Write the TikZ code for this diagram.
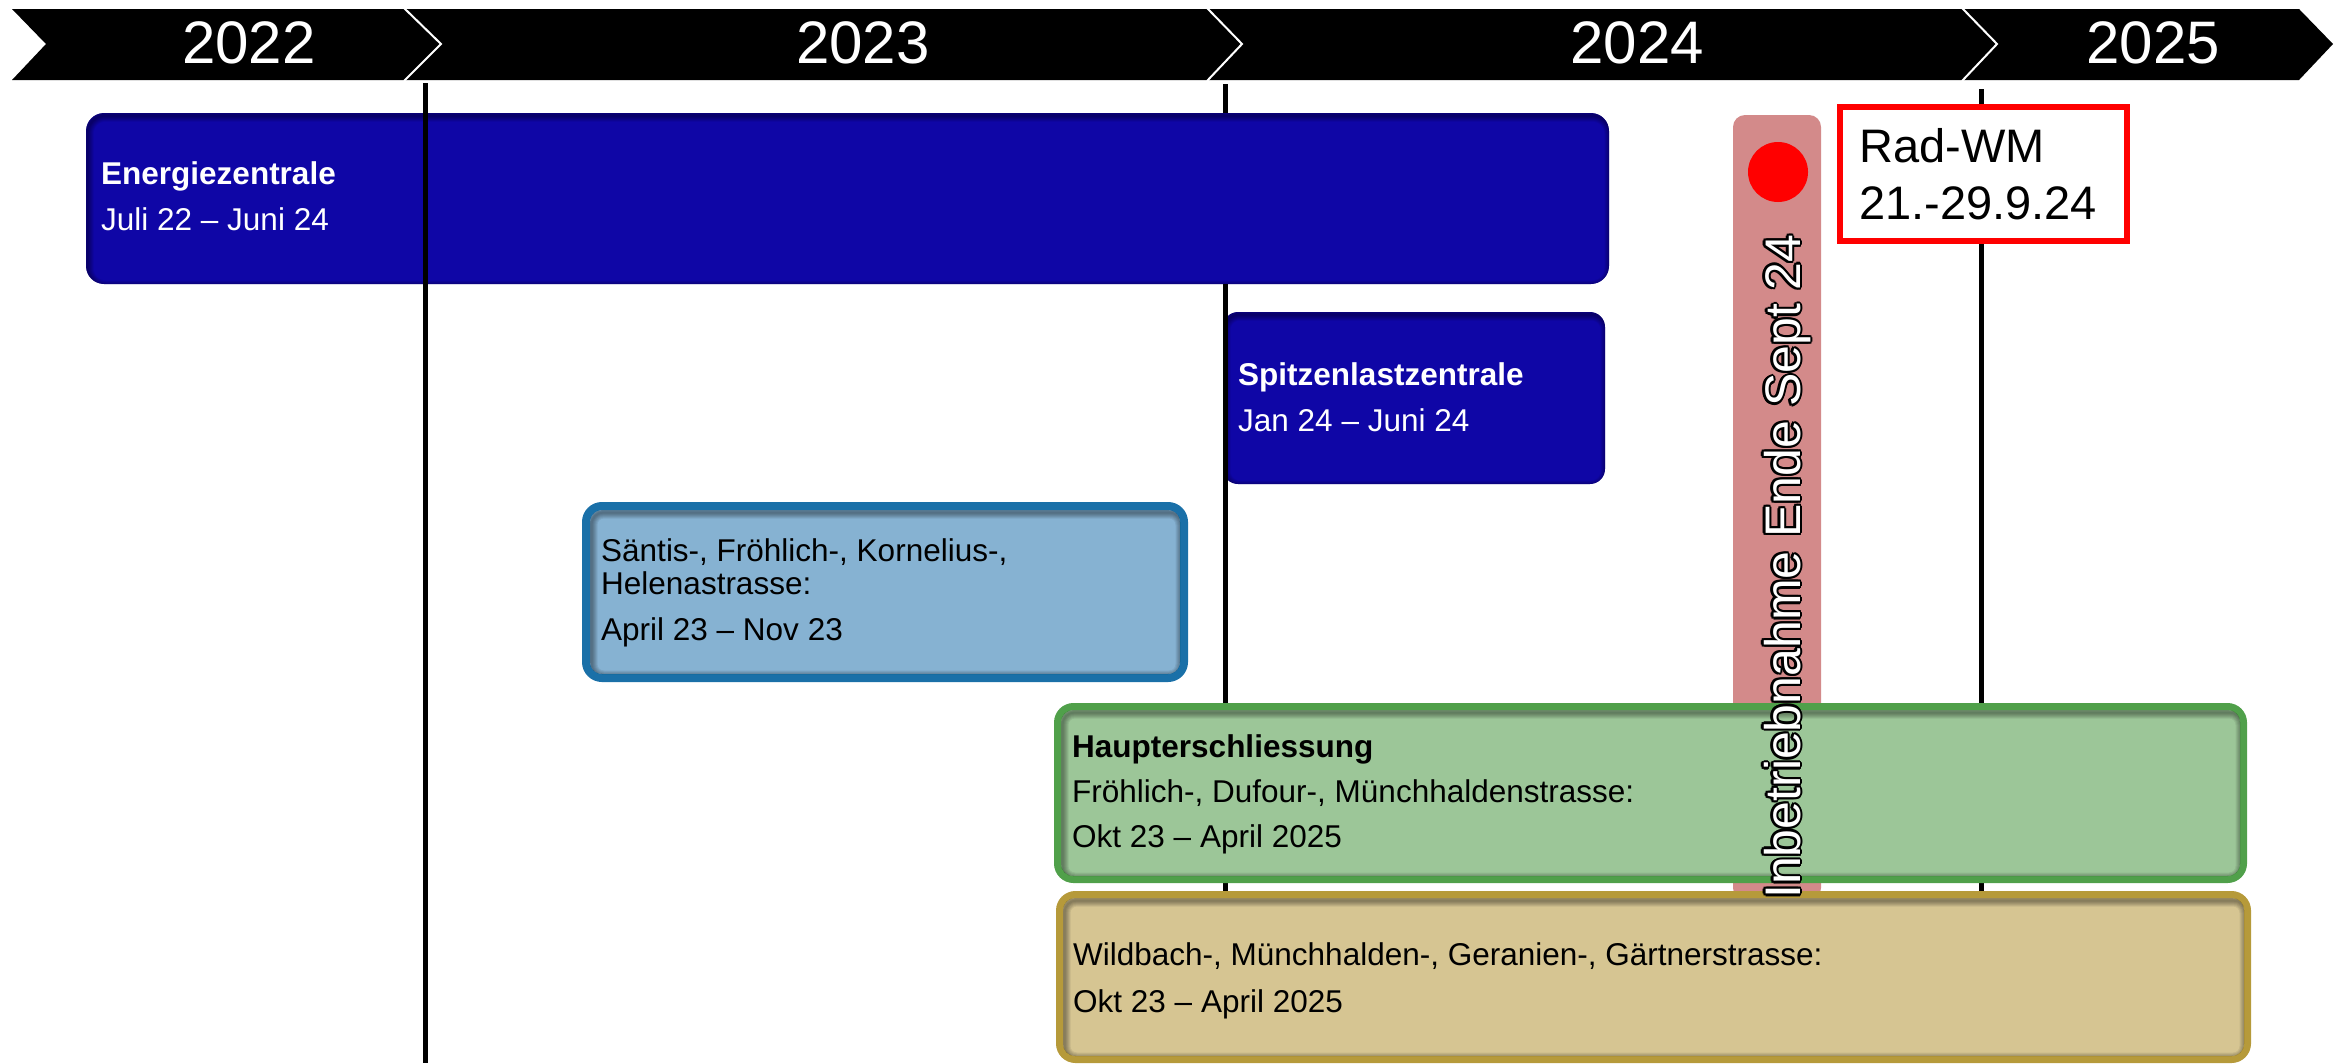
\documentclass[tikz,border=0pt]{standalone}
\usepackage{fontspec}
\setmainfont{Liberation Sans}
\definecolor{ezblue}{HTML}{0F06A6}
\definecolor{lbfill}{HTML}{86B2D2}
\definecolor{lbdraw}{HTML}{1A70A8}
\definecolor{grfill}{HTML}{9CC698}
\definecolor{grdraw}{HTML}{50A04A}
\definecolor{tnfill}{HTML}{D6C592}
\definecolor{tndraw}{HTML}{B69A3A}
\definecolor{pinkbar}{HTML}{D38A8A}
\newcommand\myinshadow[5]{%
  \begin{scope}
    \clip[rounded corners=#5] (#1,#2) rectangle (#3,#4);
    \foreach \w in {2,4,6,8,10,12}{
      \draw[black, opacity=0.07, line width=\w, rounded corners=#5] (#1+1.5,#2+2.5) rectangle (#3+1.5,#4+2.5);
    }
  \end{scope}}
\begin{document}
\begin{tikzpicture}[x=1pt,y=-1pt,
  boxtxt/.style={anchor=base west, inner sep=0pt, font=\fontsize{31.5}{36}\selectfont},
  boxbold/.style={boxtxt, font=\fontsize{31.5}{36}\selectfont\bfseries},
  yeartxt/.style={anchor=base, inner sep=0pt, text=white, font=\fontsize{60}{70}\selectfont},
  radtxt/.style={anchor=base west, inner sep=0pt, font=\fontsize{47}{56}\selectfont},
  vtxt/.style={rotate=90, anchor=base west, inner sep=0pt, font=\fontsize{50}{60}\selectfont},
  gridline/.style={black, line width=5}]
\useasboundingbox (0,0) rectangle (2349,1063);
\fill[white] (0,0) rectangle (2349,1063);

% banner
\fill[black] (12,9) -- (2299,9) -- (2333,44) -- (2299,80) -- (12,80) -- (46,44) -- cycle;
\foreach \sx/\px in {404/441, 1207/1242, 1962/1997}
  \draw[white, line width=2] (\sx,8) -- (\px,44) -- (\sx,81);
\node[yeartxt] (y2022) at (249,63) {2022};
\node[yeartxt] (y2023) at (863,63) {2023};
\node[yeartxt] (y2024) at (1637,63) {2024};
\node[yeartxt] (y2025) at (2153,63) {2025};

% grid lines behind
\draw[gridline] (1225,84) -- (1225,1063);
\draw[gridline] (1981,89) -- (1981,1063);

% Energiezentrale
\fill[ezblue, rounded corners=18] (86,113) rectangle (1609,284);
\myinshadow{86}{113}{1609}{284}{18}
\draw[gridline] (425,83) -- (425,1063);
\node[boxbold, text=white] (ez1) at (101,184) {Energiezentrale};
\node[boxtxt, text=white] (ez2) at (101,230) {Juli 22 \textendash{} Juni 24};

% Spitzenlastzentrale
\fill[ezblue, rounded corners=15] (1223,312) rectangle (1605,484);
\myinshadow{1223}{312}{1605}{484}{15}
\draw[gridline] (1225,284) -- (1225,1063);
\node[boxbold, text=white] (sp1) at (1238,385) {Spitzenlastzentrale};
\node[boxtxt, text=white] (sp2) at (1238,431) {Jan 24 \textendash{} Juni 24};

% Saentis
\filldraw[fill=lbfill, draw=lbdraw, line width=8, rounded corners=16] (586,506) rectangle (1184,678);
\myinshadow{590}{510}{1180}{674}{12}
\node[boxtxt] (sa1) at (601,561) {Säntis-, Fröhlich-, Kornelius-,};
\node[boxtxt] (sa2) at (601,594) {Helenastrasse:};
\node[boxtxt] (sa3) at (601,640) {April 23 \textendash{} Nov 23};

% pink bar
\fill[pinkbar, rounded corners=12] (1733,115) rectangle (1821,900);
\fill[red] (1778,172) circle[radius=30pt];

% Haupterschliessung
\filldraw[fill=grfill, draw=grdraw, line width=7, rounded corners=16] (1057.5,706.5) rectangle (2243.5,879.5);
\myinshadow{1061}{710}{2240}{876}{12}
\node[boxbold] (ha1) at (1072,757) {Haupterschliessung};
\node[boxtxt] (ha2) at (1072,802) {Fröhlich-, Dufour-, Münchhaldenstrasse:};
\node[boxtxt] (ha3) at (1072,847) {Okt 23 \textendash{} April 2025};

% Wildbach
\filldraw[fill=tnfill, draw=tndraw, line width=7, rounded corners=16] (1059.5,894.5) rectangle (2247.5,1059.5);
\myinshadow{1063}{898}{2244}{1056}{12}
\node[boxtxt] (wi1) at (1073,965) {Wildbach-, Münchhalden-, Geranien-, Gärtnerstrasse:};
\node[boxtxt] (wi2) at (1073,1012) {Okt 23 \textendash{} April 2025};

% Rad-WM
\filldraw[fill=white, draw=red, line width=6] (1840,107) rectangle (2127,241);
\node[radtxt] (rad1) at (1859,162) {Rad-WM};
\node[radtxt] (rad2) at (1859,219) {21.-29.9.24};

% vertical outlined text
\foreach \a [count=\k] in {0,30,...,330}
  \node[vtxt, text=black] (vo\k) at ({1800+2.2*cos(\a)},{899+2.2*sin(\a)}) {Inbetriebnahme Ende Sept 24};
\node[vtxt, text=white] (vt) at (1800,899) {Inbetriebnahme Ende Sept 24};
\end{tikzpicture}
\end{document}
